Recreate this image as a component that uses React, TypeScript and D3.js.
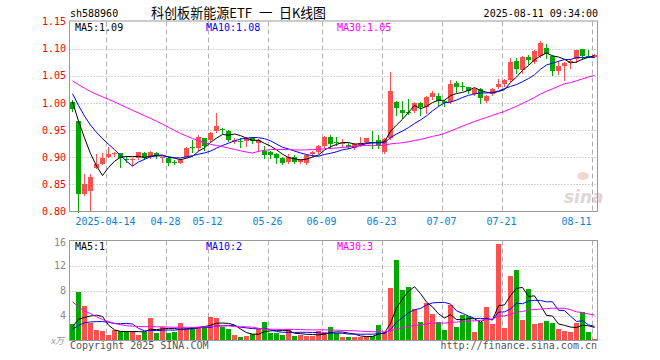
import React from "react";
import * as d3 from "d3";

// ---------- data ----------
const dates = [
  "2025-04-03","2025-04-07","2025-04-08","2025-04-09","2025-04-10","2025-04-11",
  "2025-04-14","2025-04-15","2025-04-16","2025-04-17","2025-04-18",
  "2025-04-21","2025-04-22","2025-04-23","2025-04-24","2025-04-25",
  "2025-04-28","2025-04-29","2025-04-30",
  "2025-05-06","2025-05-07","2025-05-08","2025-05-09",
  "2025-05-12","2025-05-13","2025-05-14","2025-05-15","2025-05-16",
  "2025-05-19","2025-05-20","2025-05-21","2025-05-22","2025-05-23",
  "2025-05-26","2025-05-27","2025-05-28","2025-05-29","2025-05-30",
  "2025-06-03","2025-06-04","2025-06-05","2025-06-06",
  "2025-06-09","2025-06-10","2025-06-11","2025-06-12","2025-06-13",
  "2025-06-16","2025-06-17","2025-06-18","2025-06-19","2025-06-20",
  "2025-06-23","2025-06-24","2025-06-25","2025-06-26","2025-06-27",
  "2025-06-30","2025-07-01","2025-07-02","2025-07-03","2025-07-04",
  "2025-07-07","2025-07-08","2025-07-09","2025-07-10","2025-07-11",
  "2025-07-14","2025-07-15","2025-07-16","2025-07-17","2025-07-18",
  "2025-07-21","2025-07-22","2025-07-23","2025-07-24","2025-07-25",
  "2025-07-28","2025-07-29","2025-07-30","2025-07-31","2025-08-01",
  "2025-08-04","2025-08-05","2025-08-06","2025-08-07","2025-08-08",
  "2025-08-11",
];

const opens = [
  1.002,0.967,0.832,0.837,0.881,0.888,0.901,0.906,0.907,0.897,0.895,
  0.898,0.907,0.900,0.907,0.899,0.899,0.892,0.890,0.901,0.919,0.917,0.935,
  0.932,0.949,0.952,0.948,0.928,0.930,0.929,0.935,0.926,0.912,
  0.909,0.906,0.899,0.892,0.901,0.892,0.889,0.906,0.910,
  0.920,0.937,0.928,0.924,0.923,0.917,0.923,0.928,0.928,0.932,
  0.910,0.935,1.002,0.987,0.984,0.985,1.000,0.992,1.010,1.012,
  1.003,1.002,1.036,1.031,1.029,1.016,1.025,1.004,1.016,1.030,
  1.034,1.042,1.077,1.061,1.085,1.075,1.086,1.102,1.086,1.059,
  1.068,1.074,1.080,1.099,1.087,1.085,
];
const highs = [
  1.006,0.967,0.869,0.869,0.906,0.907,0.918,0.910,0.908,0.902,0.899,
  0.910,0.909,0.912,0.909,0.901,0.900,0.894,0.896,0.918,0.932,0.941,0.936,
  0.947,0.981,0.954,0.950,0.936,0.935,0.938,0.937,0.934,0.921,
  0.911,0.908,0.901,0.905,0.904,0.897,0.906,0.911,0.923,
  0.939,0.941,0.938,0.933,0.926,0.926,0.937,0.936,0.948,0.941,
  0.936,1.057,1.003,1.004,1.007,1.001,1.002,1.012,1.022,1.019,
  1.005,1.042,1.040,1.039,1.030,1.028,1.027,1.014,1.027,1.045,
  1.044,1.082,1.082,1.087,1.089,1.097,1.114,1.108,1.088,1.078,
  1.076,1.080,1.098,1.100,1.097,1.091,
];
const lows = [
  0.985,0.800,0.830,0.803,0.880,0.887,0.900,0.902,0.882,0.892,0.886,
  0.897,0.896,0.899,0.898,0.891,0.885,0.887,0.889,0.900,0.910,0.914,0.914,
  0.930,0.947,0.944,0.929,0.926,0.919,0.921,0.926,0.911,0.898,
  0.898,0.890,0.887,0.890,0.890,0.889,0.887,0.903,0.908,
  0.918,0.917,0.923,0.920,0.917,0.915,0.920,0.926,0.917,0.917,
  0.908,0.933,0.978,0.973,0.980,0.983,0.978,0.981,1.008,0.994,
  0.994,1.000,1.020,1.024,1.018,1.014,0.999,1.001,1.014,1.028,
  1.032,1.040,1.055,1.055,1.072,1.073,1.084,1.082,1.051,1.054,
  1.043,1.065,1.076,1.080,1.084,1.084,
];
const closes = [
  0.988,0.832,0.850,0.863,0.887,0.899,0.906,0.908,0.899,0.895,0.897,
  0.909,0.898,0.910,0.903,0.900,0.890,0.889,0.895,0.917,0.917,0.937,0.921,
  0.944,0.957,0.950,0.931,0.932,0.929,0.933,0.930,0.932,0.904,
  0.904,0.898,0.890,0.901,0.892,0.895,0.904,0.909,0.920,
  0.938,0.925,0.926,0.927,0.919,0.924,0.927,0.935,0.927,0.921,
  0.934,1.022,0.991,0.982,0.983,0.999,0.992,1.011,1.019,1.003,
  1.000,1.034,1.030,1.030,1.022,1.025,1.009,1.012,1.025,1.034,
  1.042,1.075,1.063,1.085,1.079,1.095,1.111,1.090,1.059,1.068,
  1.074,1.078,1.097,1.086,1.085,1.089,
];
// volume, in 万
const volumes = [
  2.58,7.76,5.52,2.75,1.68,1.52,0.88,1.68,1.52,1.52,1.52,
  0.88,1.41,3.65,1.25,2.11,1.25,1.41,2.85,1.89,2.16,2.16,2.16,
  3.76,3.65,2.21,1.89,0.88,0.61,0.72,0.99,1.79,3.01,
  1.15,1.25,0.88,1.79,0.72,0.83,0.72,0.72,1.52,
  1.30,2.16,1.20,0.61,0.61,0.61,0.61,0.72,0.72,2.50,
  1.41,8.45,12.88,8.08,8.56,5.04,3.01,6.05,4.24,3.01,
  1.68,5.68,2.16,4.08,4.00,1.41,3.01,5.36,2.64,15.44,
  2.05,10.37,11.28,3.28,8.19,2.64,2.80,3.17,2.80,1.84,
  1.52,1.41,2.80,4.64,1.41,0.16,
];
// sessions before the window (needed for the moving averages at the left edge)
const priorCloses = [
  1.040,1.045,1.050,1.038,1.042,1.044,
  1.050,1.055,1.048,1.052,1.056,1.045,
  1.060,1.062,1.058,1.065,
  1.066,1.062,1.058,1.054,
  1.050,1.045,1.030,1.020,1.015,
  1.010,1.005,1.008,1.000,
];
const priorVolumes = [
  32,26,14.7,17,14.7,11,9.6,8,6.5,3.5,2.6,2.4,
  2.8,2.6,2.2,2.5,2.6,2.3,2.4,2.4,
  1.5,1.3,1.4,1.2,1.45,
  1.86,3.97,1.64,1.0,
];

const priceTicks = [1.15, 1.10, 1.05, 1.00, 0.95, 0.90, 0.85, 0.80];
const volumeTicks = [16, 12, 8, 4];
const tickDates = ["2025-04-14","2025-04-28","2025-05-12","2025-05-26","2025-06-09","2025-06-23","2025-07-07","2025-07-21","2025-08-11"];
const tickLabels = ["2025-04-14","04-28","05-12","05-26","06-09","06-23","07-07","07-21","08-11"];
const maPeriods = [5, 10, 30];
const maColors = ["#000000", "#0000ff", "#ff00ff"];
const priceLegend = ["MA5:1.09", "MA10:1.08", "MA30:1.05"];
const volumeLegend = ["MA5:1", "MA10:2", "MA30:3"];
const symbol = "sh588960";
const titleParts = ["科创板新能源ETF", "一", "日K线图"];
const stamp = "2025-08-11 09:34:00";

// ---------- drawing ----------
const MONO = "'DejaVu Sans Mono', 'Liberation Mono', monospace";
const CJK = "'Noto Sans CJK SC', sans-serif";
const RED = "#ff5050";
const GREEN = "#00a800";

export default function App() {
  const n = closes.length;
  const boxL = 69.5, boxR = 597.5;
  const mainTop = 21.5, mainBot = 211.5;
  const volTop = 240.5, volBot = 340.5;

  const x = d3.scaleBand<number>().domain(d3.range(n)).range([70, 70 + 6 * n - 1]).paddingInner(1 / 6).paddingOuter(0);
  const bw = x.bandwidth();
  const y = d3.scaleLinear().domain([0.8, 1.15]).range([mainBot, mainTop]);
  const yv = d3.scaleLinear().domain([0, 16]).range([volBot, volTop]);

  const allC = priorCloses.concat(closes);
  const allV = priorVolumes.concat(volumes);
  const P = priorCloses.length;
  const movAvg = (arr: number[], p: number) =>
    d3.range(n).map((i) => d3.mean(arr.slice(i + P - p + 1, i + P + 1)) as number);

  const priceMA = maPeriods.map((p) => movAvg(allC, p));
  const volMA = maPeriods.map((p) => movAvg(allV, p));

  const cx = (i: number) => (x(i) as number) + bw / 2;
  const lineP = d3.line<number>().x((_, i) => cx(i)).y((d) => y(d));
  const lineV = d3.line<number>().x((_, i) => cx(i)).y((d) => yv(d));

  const gridXs = tickDates.map((d) => (x(dates.indexOf(d)) as number) + 0.5);

  return (
    <svg width={660} height={360} style={{ position: "absolute", left: 0, top: 0, background: "#fff" }}>
      {/* header */}
      <text x={70} y={17} fontFamily={MONO} fontSize={10} fill="#000">{symbol}</text>
      <text x={151} y={18} fontFamily={CJK} fontSize={13.5} fill="#000" textLength={101} lengthAdjust="spacingAndGlyphs">{titleParts[0]}</text>
      <text x={259} y={18} fontFamily={CJK} fontSize={13.5} fill="#000">{titleParts[1]}</text>
      <text x={279} y={18} fontFamily={CJK} fontSize={13.5} fill="#000" textLength={47} lengthAdjust="spacingAndGlyphs">{titleParts[2]}</text>
      <text x={598} y={17} fontFamily={MONO} fontSize={10} fill="#000" textAnchor="end">{stamp}</text>

      {/* horizontal grid */}
      {priceTicks.slice(1, -1).map((t) => (
        <line key={"hp" + t} x1={boxL} x2={boxR} y1={Math.round(y(t)) + 0.5} y2={Math.round(y(t)) + 0.5}
          stroke="#a8a8a8" strokeDasharray="1,2" />
      ))}
      {volumeTicks.slice(1).map((t) => (
        <line key={"hv" + t} x1={boxL} x2={boxR} y1={Math.round(yv(t)) + 0.5} y2={Math.round(yv(t)) + 0.5}
          stroke="#a8a8a8" strokeDasharray="1,2" />
      ))}
      {/* vertical grid */}
      {gridXs.map((gx, k) => (
        <g key={"vx" + k}>
          <line x1={gx} x2={gx} y1={mainTop} y2={mainBot} stroke="#b0b0b0" strokeDasharray="5,3" />
          <line x1={gx} x2={gx} y1={volTop} y2={volBot} stroke="#b0b0b0" strokeDasharray="5,3" />
        </g>
      ))}

      {/* watermark */}
      <g opacity={0.6}>
        <ellipse cx={583} cy={176} rx={6} ry={4} fill="#f0b8b8" />
        <text x={564} y={203} fontFamily="'DejaVu Sans', sans-serif" fontStyle="italic" fontWeight="bold" fontSize={17} fill="#d0b8b8">sina</text>
      </g>

      {/* candles */}
      {closes.map((c, i) => {
        const o = opens[i];
        const up = c >= o;
        const col = up ? RED : GREEN;
        const x0 = x(i) as number;
        const top = Math.round(y(Math.max(o, c)));
        const bot = Math.round(y(Math.min(o, c)));
        const hy = Math.round(y(highs[i]));
        const ly = Math.round(y(lows[i]));
        return (
          <g key={"k" + i} shapeRendering="crispEdges">
            <rect x={x0 + 2} y={hy} width={1} height={Math.max(1, ly - hy + 1)} fill={col} />
            <rect x={x0} y={top} width={bw} height={Math.max(1, bot - top)} fill={col} />
          </g>
        );
      })}

      {/* volume bars */}
      {volumes.map((v, i) => {
        const up = closes[i] >= opens[i];
        const top = Math.round(yv(v));
        return (
          <rect key={"v" + i} x={x(i) as number} y={top} width={bw} height={Math.max(1, volBot - top)}
            fill={up ? RED : GREEN} shapeRendering="crispEdges" />
        );
      })}

      {/* moving averages */}
      {priceMA.map((s, k) => (
        <path key={"pm" + k} d={lineP(s) as string} fill="none" stroke={maColors[k]} strokeWidth={1} />
      ))}
      {volMA.map((s, k) => (
        <path key={"vm" + k} d={lineV(s) as string} fill="none" stroke={maColors[k]} strokeWidth={1} />
      ))}

      {/* frames */}
      <rect x={boxL} y={mainTop - 0.5} width={boxR - boxL} height={mainBot - mainTop + 0.5} fill="none" stroke="#999" />
      <rect x={boxL} y={volTop} width={boxR - boxL} height={volBot - volTop} fill="none" stroke="#999" />

      {/* legends */}
      {priceLegend.map((t, k) => (
        <text key={"pl" + k} x={[75, 206, 337][k]} y={31} fontFamily={MONO} fontSize={10} fill={maColors[k]}>{t}</text>
      ))}
      {volumeLegend.map((t, k) => (
        <text key={"vl" + k} x={[75, 206, 337][k]} y={250} fontFamily={MONO} fontSize={10} fill={maColors[k]}>{t}</text>
      ))}

      {/* price axis labels */}
      {priceTicks.map((t) => (
        <text key={"pt" + t} x={66} y={y(t)} dy="0.36em" fontFamily={MONO} fontSize={10} fill="#ff0000" textAnchor="end">
          {t.toFixed(2)}
        </text>
      ))}
      {/* volume axis labels */}
      {volumeTicks.map((t) => (
        <text key={"vt" + t} x={66} y={yv(t) + (t === 16 ? 2 : 0)} dy="0.36em" fontFamily={MONO} fontSize={10} fill="#888" textAnchor="end">
          {t}
        </text>
      ))}
      <text x={64} y={344} fontFamily={CJK} fontSize={9} fill="#999" textAnchor="end" fontStyle="italic">x万</text>

      {/* date labels */}
      {tickLabels.map((lab, k) => {
        const w = lab.length * 6;
        const cxl = Math.min(gridXs[k] - 1, boxR - 6 - w / 2);
        return (
          <text key={"dl" + k} x={cxl} y={225} fontFamily={MONO} fontSize={10} fill="#0a7fd6" textAnchor="middle">{lab}</text>
        );
      })}

      {/* footer */}
      <text x={70} y={349} fontFamily={MONO} fontSize={10} fill="#555">Copyright 2025 SINA.COM</text>
      <text x={597} y={349} fontFamily={MONO} fontSize={10} fill="#555" textAnchor="end">http://finance.sina.com.cn</text>
    </svg>
  );
}
